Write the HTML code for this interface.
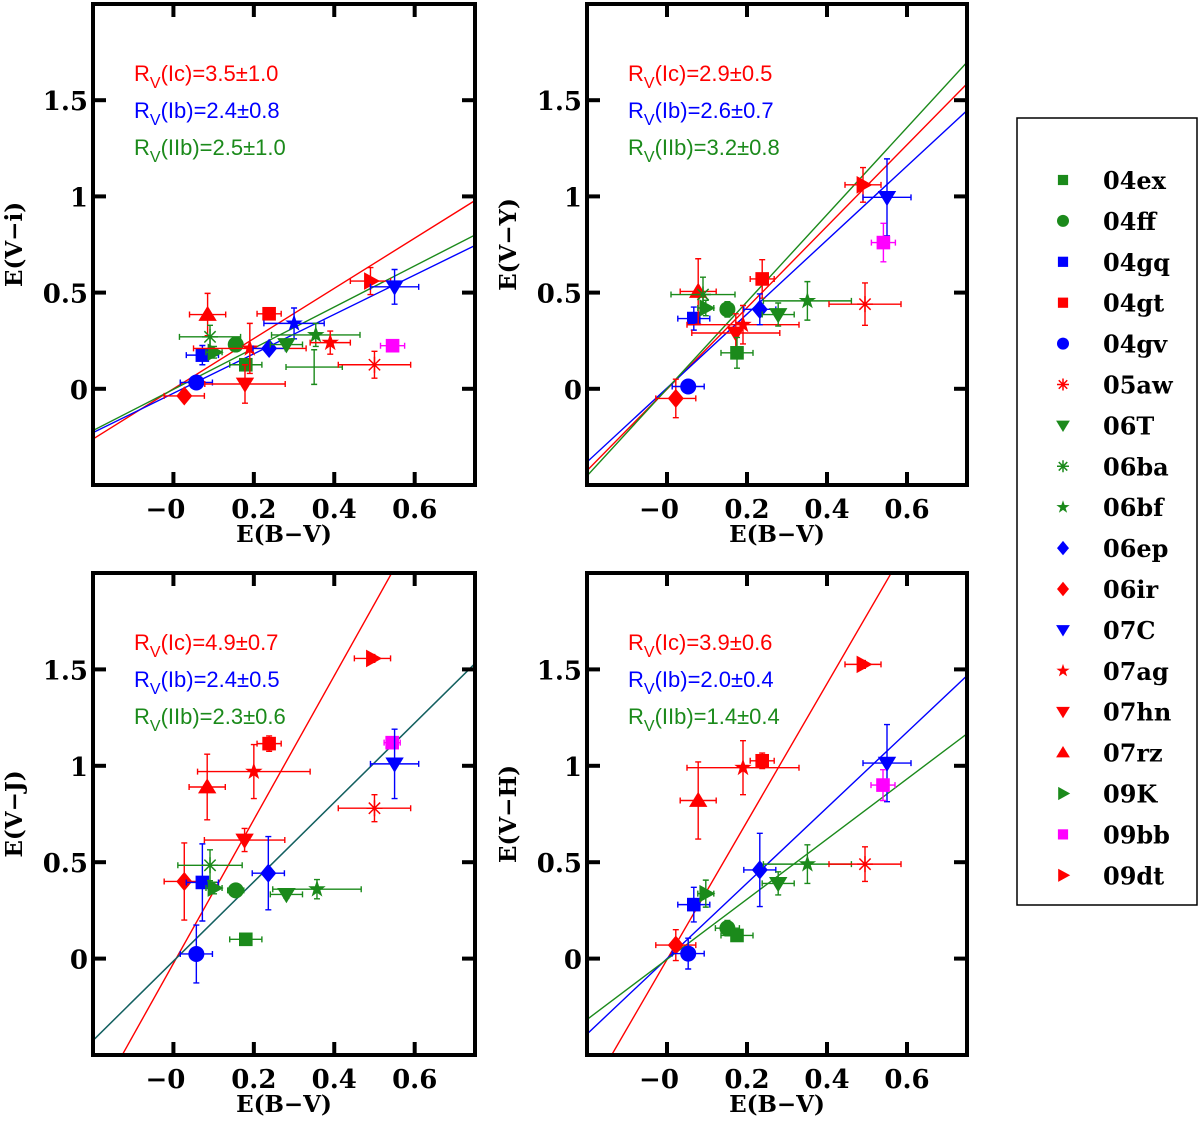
<!DOCTYPE html>
<html><head><meta charset="utf-8"><style>
html,body{margin:0;padding:0;background:#fff;}
svg{display:block;}
.tk{font-family:"DejaVu Serif","Liberation Serif",serif;font-weight:bold;font-size:26px;fill:#000;}
.ax{font-family:"DejaVu Serif","Liberation Serif",serif;font-weight:bold;font-size:23px;fill:#000;}
.an{font-family:"Liberation Sans",sans-serif;font-size:22px;}
.lg{font-family:"DejaVu Serif","Liberation Serif",serif;font-weight:bold;font-size:24px;fill:#000;}
</style></head><body>
<svg id="fig" width="1200" height="1124" viewBox="0 0 1200 1124" xmlns="http://www.w3.org/2000/svg"></svg>
<script>
const SN_NAMES=["04ex","04ff","04gq","04gt","04gv","05aw","06T","06ba","06bf","06ep","06ir","07C","07ag","07hn","07rz","09K","09bb","09dt"];
const SN_SHAPE={"04ex":"sq","04ff":"ci","04gq":"sq","04gt":"sq","04gv":"ci","05aw":"ast","06T":"td","06ba":"ast","06bf":"st","06ep":"di","06ir":"di","07C":"td","07ag":"st","07hn":"td","07rz":"tu","09K":"tr","09bb":"sq","09dt":"tr","xb":"st","xg":"none"};
const G="#1b8a1b",R="#ff0000",B="#0000ff",M="#ff00ff";
const SN_COLOR={"04ex":G,"04ff":G,"04gq":B,"04gt":R,"04gv":B,"05aw":R,"06T":G,"06ba":G,"06bf":G,"06ep":B,"06ir":R,"07C":B,"07ag":R,"07hn":R,"07rz":R,"09K":G,"09bb":M,"09dt":R,"xb":B,"xg":G};
// Panel 1: E(V-i)
const p1_ids=["06ir","04gv","04gq","07rz","06ba","09K","04ff","04ex","07hn","07ag","04gt","06ep","xb","06T","06bf","xg","07ag","05aw","09bb","09dt","07C"];
const p1_x=[0.027,0.057,0.072,0.085,0.091,0.101,0.155,0.18,0.178,0.19,0.238,0.238,0.30,0.281,0.354,0.35,0.39,0.50,0.545,0.49,0.55];
const p1_y=[-0.037,0.033,0.175,0.386,0.27,0.19,0.23,0.125,0.025,0.21,0.39,0.21,0.34,0.23,0.28,0.113,0.24,0.125,0.224,0.56,0.53];
const p1_xe=[0.05,0.04,0.04,0.045,0.076,0.02,0.01,0.04,0.1,0.14,0.03,0.04,0.075,0.04,0.11,0.07,0.05,0.09,0.03,0.05,0.06];
const p1_ye=[0.02,0.03,0.05,0.11,0.06,0.03,0.02,0.03,0.1,0.13,0.02,0.02,0.08,0.02,0.06,0.09,0.06,0.07,0.02,0.07,0.09];
// Panel 2: E(V-Y)
const p2_ids=["06ir","04gv","04gq","07rz","06ba","09K","04ff","07hn","07ag","04ex","04gt","06ep","06T","06bf","05aw","09dt","07C","09bb"];
const p2_x=[0.022,0.053,0.067,0.078,0.09,0.097,0.151,0.172,0.19,0.175,0.238,0.232,0.278,0.351,0.495,0.49,0.55,0.541];
const p2_y=[-0.05,0.012,0.365,0.506,0.49,0.42,0.413,0.29,0.333,0.187,0.571,0.413,0.386,0.457,0.44,1.06,0.995,0.76];
const p2_xe=[0.05,0.04,0.04,0.045,0.08,0.02,0.01,0.11,0.14,0.04,0.03,0.04,0.04,0.11,0.09,0.045,0.06,0.03];
const p2_ye=[0.1,0.03,0.06,0.17,0.09,0.04,0.04,0.1,0.1,0.08,0.1,0.08,0.06,0.1,0.11,0.09,0.2,0.1];
// Panel 3: E(V-J)
const p3_ids=["06ir","04gq","04gv","07rz","06ba","09K","04ff","04ex","07hn","07ag","04gt","06ep","06T","06bf","05aw","09dt","09bb","07C"];
const p3_x=[0.027,0.072,0.057,0.084,0.091,0.101,0.155,0.18,0.177,0.2,0.238,0.236,0.281,0.357,0.5,0.495,0.544,0.55];
const p3_y=[0.40,0.395,0.024,0.89,0.484,0.366,0.354,0.10,0.615,0.97,1.115,0.443,0.333,0.36,0.78,1.557,1.12,1.01];
const p3_xe=[0.05,0.04,0.04,0.045,0.08,0.02,0.02,0.04,0.1,0.14,0.03,0.04,0.04,0.11,0.09,0.045,0.02,0.06];
const p3_ye=[0.2,0.2,0.15,0.17,0.08,0.03,0.02,0.02,0.06,0.14,0.04,0.19,0.02,0.05,0.07,0.02,0.03,0.18];
// Panel 4: E(V-H)
const p4_ids=["06ir","04gv","04gq","07rz","09K","04ff","04ex","07ag","04gt","06ep","06T","06bf","05aw","09dt","07C","09bb"];
const p4_x=[0.022,0.053,0.067,0.078,0.097,0.151,0.175,0.19,0.238,0.232,0.278,0.351,0.495,0.49,0.55,0.54];
const p4_y=[0.07,0.026,0.28,0.82,0.337,0.158,0.12,0.99,1.026,0.46,0.39,0.49,0.49,1.526,1.014,0.90];
const p4_xe=[0.05,0.04,0.04,0.045,0.02,0.03,0.04,0.14,0.03,0.04,0.04,0.11,0.09,0.045,0.06,0.03];
const p4_ye=[0.08,0.08,0.09,0.2,0.07,0.04,0.03,0.14,0.04,0.19,0.06,0.1,0.09,0.02,0.2,0.08];
// Fit lines: [slope, intercept] for Ic (red), Ib (blue), IIb (green)
const fit_slopes=[[1.305,1.024,1.07],[2.117,1.923,2.263],[3.73,2.058,2.058],[3.577,1.957,1.56]];
const fit_inter=[[0.0,-0.023,-0.003],[-0.002,0.004,0.0],[-0.025,-0.013,-0.013],[-0.005,0.0,-0.004]];
const ann_text=[["3.5±1.0","2.4±0.8","2.5±1.0"],["2.9±0.5","2.6±0.7","3.2±0.8"],["4.9±0.7","2.4±0.5","2.3±0.6"],["3.9±0.6","2.0±0.4","1.4±0.4"]];
const ylabels=["E(V−i)","E(V−Y)","E(V−J)","E(V−H)"];
const xticks=[0,0.2,0.4,0.6];
const xtickLabels=["−0","0.2","0.4","0.6"];
const yticks=[0,0.5,1,1.5];
const ytickLabels=["0","0.5","1","1.5"];

const NS="http://www.w3.org/2000/svg";
const svg=document.getElementById('fig');
function el(tag,attrs,parent){const e=document.createElementNS(NS,tag);for(const k in attrs)e.setAttribute(k,attrs[k]);(parent||svg).appendChild(e);return e;}

const boxes=[{l:93,r:475,t:4,b:485},{l:587,r:967,t:4,b:485},{l:93,r:475,t:573,b:1055},{l:587,r:967,t:573,b:1055}];
const XMIN=-0.2,XMAX=0.75,YMIN=-0.5,YMAX=2.0;

function marker(g,shape,cx,cy,s,color){
  let e;
  if(shape==="sq"){e=el('rect',{x:cx-s*0.85,y:cy-s*0.85,width:s*1.7,height:s*1.7,fill:color},g);}
  else if(shape==="ci"){e=el('circle',{cx:cx,cy:cy,r:s,fill:color},g);}
  else if(shape==="di"){e=el('polygon',{points:`${cx},${cy-s*1.2} ${cx+s},${cy} ${cx},${cy+s*1.2} ${cx-s},${cy}`,fill:color},g);}
  else if(shape==="td"){e=el('polygon',{points:`${cx-s*1.15},${cy-s*0.8} ${cx+s*1.15},${cy-s*0.8} ${cx},${cy+s*1.1}`,fill:color},g);}
  else if(shape==="tu"){e=el('polygon',{points:`${cx-s*1.15},${cy+s*0.8} ${cx+s*1.15},${cy+s*0.8} ${cx},${cy-s*1.1}`,fill:color},g);}
  else if(shape==="tr"){e=el('polygon',{points:`${cx-s*0.8},${cy-s*1.1} ${cx-s*0.8},${cy+s*1.1} ${cx+s*1.2},${cy}`,fill:color},g);}
  else if(shape==="st"){let p=[];for(let i=0;i<10;i++){const a=-Math.PI/2+i*Math.PI/5;const rr=i%2?s*0.45:s*1.15;p.push((cx+rr*Math.cos(a)).toFixed(1)+","+(cy+rr*Math.sin(a)).toFixed(1));}e=el('polygon',{points:p.join(' '),fill:color},g);}
  else if(shape==="ast"){let d="";for(let i=0;i<4;i++){const a=i*Math.PI/4;d+=`M${cx-s*Math.cos(a)},${cy-s*Math.sin(a)}L${cx+s*Math.cos(a)},${cy+s*Math.sin(a)}`;}e=el('path',{d:d,stroke:color,'stroke-width':1.5,fill:'none'},g);}
  return e;
}

const panels=[[p1_ids,p1_x,p1_y,p1_xe,p1_ye],[p2_ids,p2_x,p2_y,p2_xe,p2_ye],[p3_ids,p3_x,p3_y,p3_xe,p3_ye],[p4_ids,p4_x,p4_y,p4_xe,p4_ye]];
const fitColors=[R,B,G];
const fitNames=["Ic","Ib","IIb"];

boxes.forEach((bx,pi)=>{
  const X=v=>bx.l+(v-XMIN)/(XMAX-XMIN)*(bx.r-bx.l);
  const Y=v=>bx.b-(v-YMIN)/(YMAX-YMIN)*(bx.b-bx.t);
  const g=el('g',{});
  
  
  const cp=el('clipPath',{id:'cp'+pi},g);
  el('rect',{x:bx.l,y:bx.t,width:bx.r-bx.l,height:bx.b-bx.t},cp);
  const lg=el('g',{'clip-path':`url(#cp${pi})`},g);
  [0,1,2].forEach(k=>{
    const m=fit_slopes[pi][k],c=fit_inter[pi][k];
    const ln=el('line',{x1:X(XMIN),y1:Y(m*XMIN+c),x2:X(XMAX),y2:Y(m*XMAX+c),stroke:fitColors[k],'stroke-width':1.4,'stroke-opacity':(pi===2&&k===2)?0.75:1},lg);
    
    
  });
  const [ids,xs,ys,xes,yes]=panels[pi];
  const dg=el('g',{'clip-path':`url(#cp${pi})`},g);
  ids.forEach((id,i)=>{
    const col=SN_COLOR[id];
    const pg=el('g',{},dg);
    
    
    const cx=X(xs[i]),cy=Y(ys[i]);
    const x1=X(xs[i]-xes[i]),x2=X(xs[i]+xes[i]),y1=Y(ys[i]-yes[i]),y2=Y(ys[i]+yes[i]);
    el('path',{d:`M${x1},${cy}H${x2}M${x1},${cy-3}V${cy+3}M${x2},${cy-3}V${cy+3}M${cx},${y1}V${y2}M${cx-3},${y1}H${cx+3}M${cx-3},${y2}H${cx+3}`,stroke:col,'stroke-width':1.4,fill:'none'},pg);
    marker(pg,SN_SHAPE[id],cx,cy,8,col);
  });
  const fr=el('rect',{x:bx.l,y:bx.t,width:bx.r-bx.l,height:bx.b-bx.t,fill:'none',stroke:'#000','stroke-width':4},g);
  
  
  xticks.forEach((v,i)=>{
    el('line',{x1:X(v),y1:bx.b,x2:X(v),y2:bx.b-13,stroke:'#000','stroke-width':4},g);
    el('line',{x1:X(v),y1:bx.t,x2:X(v),y2:bx.t+13,stroke:'#000','stroke-width':4},g);
    const t=el('text',{x:X(v)+(i===0?-8:0),y:bx.b+33,'text-anchor':'middle',class:'tk'},g);
    t.textContent=xtickLabels[i];
    
    
  });
  yticks.forEach((v,i)=>{
    el('line',{x1:bx.l,y1:Y(v),x2:bx.l+13,y2:Y(v),stroke:'#000','stroke-width':4},g);
    el('line',{x1:bx.r,y1:Y(v),x2:bx.r-13,y2:Y(v),stroke:'#000','stroke-width':4},g);
    const t=el('text',{x:bx.l-5,y:Y(v)+10,'text-anchor':'end',class:'tk'},g);
    t.textContent=ytickLabels[i];
    
    
  });
  const xl=el('text',{x:(bx.l+bx.r)/2,y:bx.b+57,'text-anchor':'middle',class:'ax'},g);
  xl.textContent="E(B−V)";
  
  
  const ymid=(bx.t+bx.b)/2;
  const yl=el('text',{x:bx.l-71,y:ymid,'text-anchor':'middle',class:'ax',transform:`rotate(-90 ${bx.l-71} ${ymid})`},g);
  yl.textContent=ylabels[pi];
  
  
  const ay0=bx.t+77;
  fitNames.forEach((n,k)=>{
    const t=el('text',{x:bx.l+41,y:ay0+k*37,class:'an',fill:fitColors[k]},g);
    
    
    const a=el('tspan',{},t);a.textContent="R";
    const b=el('tspan',{dy:7,'font-size':'16px'},t);b.textContent="V";
    const c=el('tspan',{dy:-7},t);c.textContent="("+n+")="+ann_text[pi][k];
  });
});

const lgG=el('g',{});


el('rect',{x:1017,y:118,width:180,height:787,fill:'#fff',stroke:'#000','stroke-width':1.5},lgG);
SN_NAMES.forEach((n,i)=>{
  const yy=180+i*40.9;
  const eg=el('g',{},lgG);
  
  
  marker(eg,SN_SHAPE[n],1063,yy,6,SN_COLOR[n]);
  const t=el('text',{x:1103,y:yy+9,class:'lg'},eg);
  t.textContent=n;
});
</script>
</body></html>
